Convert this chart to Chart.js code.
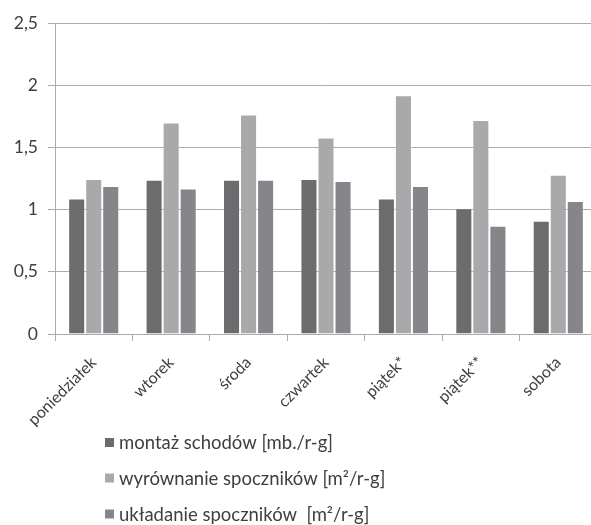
<!DOCTYPE html>
<html lang="pl">
<head>
<meta charset="utf-8">
<title>Wydajność pracy w kolejnych dniach tygodnia</title>
<script src="https://cdn.jsdelivr.net/npm/chart.js@4/dist/chart.umd.min.js"></script>
<style>
  html, body { margin: 0; padding: 0; background: #ffffff; overflow: hidden; }
  #wrap { position: relative; width: 600px; height: 525px; }
</style>
</head>
<body>
<div id="wrap"><canvas id="chart"></canvas></div>
<script>
// Dni tygodnia (kategorie osi X)
const categories = ['poniedziałek', 'wtorek', 'środa', 'czwartek', 'piątek*', 'piątek**', 'sobota'];

// Wydajność dla poszczególnych robót
const montazSchodow        = [1.09, 1.24, 1.24, 1.245, 1.09, 1.01, 0.91];
const wyrownanieSpocznikow = [1.245, 1.70, 1.765, 1.58, 1.92, 1.72, 1.28];
const ukladanieSpocznikow  = [1.19, 1.17, 1.24, 1.23, 1.19, 0.87, 1.07];

// Nazwy serii
const seriesLabels = [
  'montaż schodów [mb./r-g]',
  'wyrównanie spoczników [m²/r-g]',
  'układanie spoczników  [m²/r-g]'
];

// Podziałka osi Y
const yTickValues = [0, 0.5, 1, 1.5, 2, 2.5];
const yTickLabels = ['0', '0,5', '1', '1,5', '2', '2,5'];

const seriesColors = ['#6c6c6f', '#a9a9ac', '#86868a'];
const textColor = '#3f3f3f';
const gridColor = '#ababab';
const fontFamily = 'Lato, "Open Sans", sans-serif';

// Legenda w jednej kolumnie pod wykresem
const columnLegend = {
  id: 'columnLegend',
  afterDraw(chart) {
    const ctx = chart.ctx;
    ctx.save();
    ctx.font = '18.5px ' + fontFamily;
    ctx.textBaseline = 'middle';
    ctx.textAlign = 'left';
    const x0 = 105, box = 9, rows = [442.5, 478, 514];
    chart.data.datasets.forEach((ds, i) => {
      const cy = rows[i];
      ctx.fillStyle = ds.backgroundColor;
      ctx.fillRect(x0, cy - box / 2, box, box);
      ctx.fillStyle = textColor;
      ctx.fillText(ds.label, x0 + 14, cy + 1);
    });
    ctx.restore();
  }
};

const seriesData = [montazSchodow, wyrownanieSpocznikow, ukladanieSpocznikow];

new Chart(document.getElementById('chart'), {
  type: 'bar',
  data: {
    labels: categories,
    datasets: seriesData.map((values, i) => ({
      label: seriesLabels[i],
      data: values,
      backgroundColor: seriesColors[i],
      borderColor: 'rgba(255,255,255,0.25)',
      borderWidth: 1,
      categoryPercentage: 0.66,
      barPercentage: 1.0
    }))
  },
  options: {
    responsive: true,
    maintainAspectRatio: false,
    animation: false,
    events: [],
    layout: { padding: { top: 23, right: 3, bottom: 81, left: 0 } },
    plugins: {
      legend: { display: false },
      tooltip: { enabled: false }
    },
    scales: {
      x: {
        grid: {
          offset: true,
          drawOnChartArea: false,
          drawTicks: true,
          tickLength: 7,
          color: gridColor
        },
        border: { display: true, color: gridColor, width: 1 },
        ticks: {
          color: textColor,
          font: { family: fontFamily, size: 16 },
          minRotation: 45,
          maxRotation: 45,
          autoSkip: false,
          padding: 12
        },
        afterFit(scale) { scale.height = 110; }
      },
      y: {
        min: 0,
        max: 2.5,
        grid: {
          color: gridColor,
          drawTicks: true,
          tickLength: 7,
          lineWidth: 1
        },
        border: { display: true, color: gridColor, width: 1 },
        ticks: {
          stepSize: 0.5,
          color: textColor,
          font: { family: fontFamily, size: 17.5 },
          padding: 10,
          callback: (value) => {
            const idx = yTickValues.indexOf(value);
            return idx >= 0 ? yTickLabels[idx] : '';
          }
        },
        afterFit(scale) { scale.width = 55; }
      }
    }
  },
  plugins: [columnLegend]
});
</script>
</body>
</html>
